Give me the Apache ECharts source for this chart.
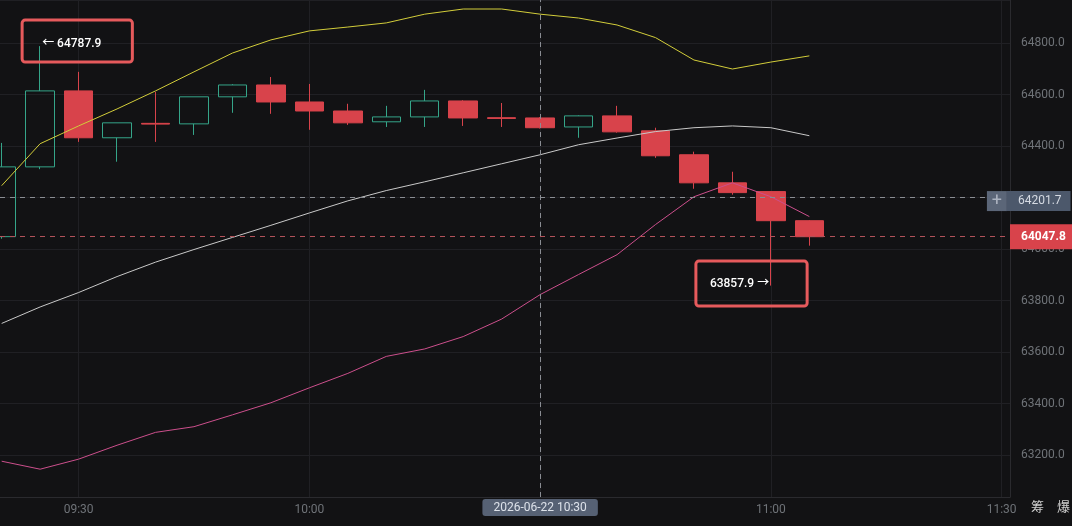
<!DOCTYPE html>
<html lang="zh">

<head>
    <meta charset="UTF-8">
    <title>K线</title>
    <script src="https://cdn.jsdelivr.net/npm/echarts@6.0.0/dist/echarts.min.js"></script>
    <style>
        html,
        body {
            margin: 0;
            padding: 0;
            background-color: #121214;
        }

        #main {
            width: 1072px;
            height: 526px;
        }
    </style>
</head>

<body>
    <div id="main"></div>

    <script>
        // 5 minute candles, 2026-06-22
        let times = ['09:20', '09:25', '09:30', '09:35', '09:40', '09:45', '09:50', '09:55', '10:00', '10:05', '10:10',
            '10:15', '10:20', '10:25', '10:30', '10:35', '10:40', '10:45', '10:50', '10:55', '11:00', '11:05'];
        let opens = [64048, 64319, 64614, 64432, 64488, 64486, 64591, 64637, 64571, 64536, 64494,
            64513, 64575, 64510, 64509, 64474, 64517, 64459, 64366, 64257, 64223, 64110];
        let closes = [64319, 64614, 64432, 64490, 64485, 64591, 64637, 64571, 64536, 64490, 64513,
            64575, 64509, 64507, 64471, 64517, 64455, 64362, 64257, 64219, 64110, 64047.8];
        let lows = [64040, 64310, 64416, 64339, 64416, 64443, 64529, 64525, 64463, 64482, 64474,
            64474, 64478, 64474, 64468, 64432, 64452, 64354, 64234, 64211, 63857.9, 64013];
        let highs = [64412, 64787.9, 64688, 64490, 64610, 64591, 64640, 64668, 64641, 64564, 64556,
            64618, 64578, 64567, 64512, 64519, 64556, 64471, 64378, 64300, 64225, 64112];

        // bollinger bands
        let upper = [64246, 64409, 64478, 64544, 64614, 64688, 64761, 64812, 64847, 64862, 64878,
            64912, 64932, 64932, 64912, 64897, 64870, 64821, 64734, 64699, 64726, 64750];
        let middle = [63711, 63775, 63831, 63893, 63949, 63998, 64045, 64092, 64140, 64187, 64227,
            64261, 64296, 64331, 64366, 64405, 64431, 64456, 64471, 64478, 64471, 64440];
        let lower = [63176, 63145, 63184, 63238, 63288, 63310, 63356, 63403, 63461, 63517, 63583,
            63612, 63660, 63728, 63823, 63901, 63978, 64095, 64203, 64257, 64203, 64126];

        // x axis ticks
        let tickTimes = ['09:30', '10:00', '10:30', '11:00', '11:30'];

        let lastPrice = 64047.8;
        let crossPrice = 64201.7;
        let crossTime = '10:30';
        let highMark = { time: '09:25', value: 64787.9 };
        let lowMark = { time: '11:00', value: 63857.9 };

        // minutes of the day, so the x axis can be a plain value axis
        function t(s, sec) {
            let p = s.split(':');
            return +p[0] * 60 + +p[1] + (sec || 0) / 60;
        }
        function pad(n) {
            return (n < 10 ? '0' : '') + n;
        }
        function hhmm(v) {
            let m = Math.round(v);
            return pad(Math.floor(m / 60)) + ':' + pad(m % 60);
        }

        let candleData = times.map((s, i) => [t(s), opens[i], closes[i], lows[i], highs[i]]);
        let lineData = arr => times.map((s, i) => [t(s), arr[i]]);
        let tickValues = tickTimes.map(s => t(s));

        let myChart = echarts.init(document.getElementById('main'));

        let markBox = {
            color: '#ffffff',
            fontSize: 12,
            fontWeight: 500,
            lineHeight: 14,
            borderColor: '#e65a5c',
            borderWidth: 3,
            borderRadius: 3
        };

        option = {
            backgroundColor: '#121214',
            animation: false,
            textStyle: {
                fontFamily: 'Roboto, "Noto Sans CJK SC", sans-serif'
            },
            title: {
                text: '筹　爆',
                right: 2,
                top: 501,
                padding: 0,
                textStyle: {
                    color: '#cfcfcf',
                    fontSize: 13,
                    fontWeight: 'normal'
                }
            },
            grid: {
                left: 0,
                right: 62,
                top: 0,
                bottom: 29,
                outerBoundsMode: 'none'
            },
            xAxis: {
                type: 'value',
                min: t('09:19', 47),
                max: t('11:31', 5),
                axisLine: { show: true, lineStyle: { color: '#2a2a2e' } },
                axisTick: { show: false, customValues: tickValues },
                axisLabel: {
                    color: '#6f7378',
                    fontSize: 12,
                    margin: 7,
                    customValues: tickValues,
                    formatter: v => hhmm(v)
                },
                splitLine: { show: true, lineStyle: { color: '#202024' } },
                axisPointer: {
                    show: true,
                    type: 'line',
                    status: 'show',
                    value: t(crossTime),
                    snap: false,
                    triggerTooltip: false,
                    lineStyle: { color: '#8a8d93', type: [5, 4], width: 1 },
                    label: {
                        show: true,
                        margin: 2,
                        backgroundColor: '#566174',
                        color: '#dde2ea',
                        fontSize: 12,
                        lineHeight: 13,
                        padding: [2, 11, 2, 11],
                        formatter: p => '2026-06-22 ' + hhmm(p.value)
                    }
                }
            },
            yAxis: {
                type: 'value',
                position: 'right',
                scale: true,
                min: 63037,
                max: 64967,
                splitNumber: 10,
                axisLine: { show: true, lineStyle: { color: '#2a2a2e' } },
                axisTick: { show: false },
                axisLabel: {
                    color: '#6f7378',
                    fontSize: 12,
                    margin: 11,
                    showMinLabel: false,
                    showMaxLabel: false,
                    formatter: v => v.toFixed(1)
                },
                splitLine: { show: true, lineStyle: { color: '#202024' } },
                axisPointer: {
                    show: true,
                    type: 'line',
                    status: 'show',
                    value: crossPrice,
                    snap: false,
                    triggerTooltip: false,
                    lineStyle: { color: '#8a8d93', type: [5, 5], width: 1 },
                    label: {
                        show: true,
                        margin: -20,
                        backgroundColor: 'transparent',
                        padding: 0,
                        formatter: p => '{p|+}{v|' + Number(p.value).toFixed(1) + '}',
                        rich: {
                            p: {
                                width: 20,
                                height: 20,
                                lineHeight: 20,
                                align: 'center',
                                fontSize: 18,
                                color: '#aab2bf',
                                backgroundColor: '#5b6678'
                            },
                            v: {
                                height: 20,
                                lineHeight: 20,
                                fontSize: 12,
                                color: '#d5dae2',
                                backgroundColor: '#4c586b',
                                padding: [0, 9, 0, 11]
                            }
                        }
                    }
                }
            },
            series: [
                {
                    name: 'K',
                    type: 'candlestick',
                    data: candleData,
                    barWidth: 29,
                    itemStyle: {
                        color: 'transparent',
                        color0: '#d8434b',
                        borderColor: '#35a589',
                        borderColor0: '#d8434b',
                        borderWidth: 1
                    },
                    markLine: {
                        silent: true,
                        symbol: ['none', 'none'],
                        lineStyle: { color: '#b3525a', type: [5, 5], width: 1 },
                        label: {
                            position: 'end',
                            distance: 0,
                            color: '#ffffff',
                            fontWeight: 'bold',
                            fontSize: 12,
                            lineHeight: 14,
                            backgroundColor: '#d8434b',
                            padding: [6, 9, 5, 11],
                            formatter: p => Number(p.value).toFixed(1)
                        },
                        data: [{ yAxis: lastPrice }]
                    },
                    markPoint: {
                        silent: true,
                        symbol: 'rect',
                        symbolSize: 1,
                        itemStyle: { color: 'rgba(0,0,0,0)' },
                        data: [
                            {
                                coord: [t(highMark.time), highMark.value],
                                value: highMark.value,
                                label: Object.assign({
                                    position: [-17.5, -25.5],
                                    padding: [17, 31, 11, 20],
                                    formatter: p => '← ' + p.value
                                }, markBox)
                            },
                            {
                                coord: [t(lowMark.time), lowMark.value],
                                value: lowMark.value,
                                label: Object.assign({
                                    position: [-74.5, -24],
                                    padding: [16, 38, 15, 14],
                                    formatter: p => p.value + ' →'
                                }, markBox)
                            }
                        ]
                    }
                },
                {
                    name: 'UP',
                    type: 'line',
                    data: lineData(upper),
                    showSymbol: false,
                    lineStyle: { color: '#d2cd3a', width: 1 }
                },
                {
                    name: 'MB',
                    type: 'line',
                    data: lineData(middle),
                    showSymbol: false,
                    lineStyle: { color: '#c9c9c9', width: 1 }
                },
                {
                    name: 'DN',
                    type: 'line',
                    data: lineData(lower),
                    showSymbol: false,
                    lineStyle: { color: '#cc4f8c', width: 1 }
                }
            ]
        };

        myChart.setOption(option);
    </script>

</body>

</html>
